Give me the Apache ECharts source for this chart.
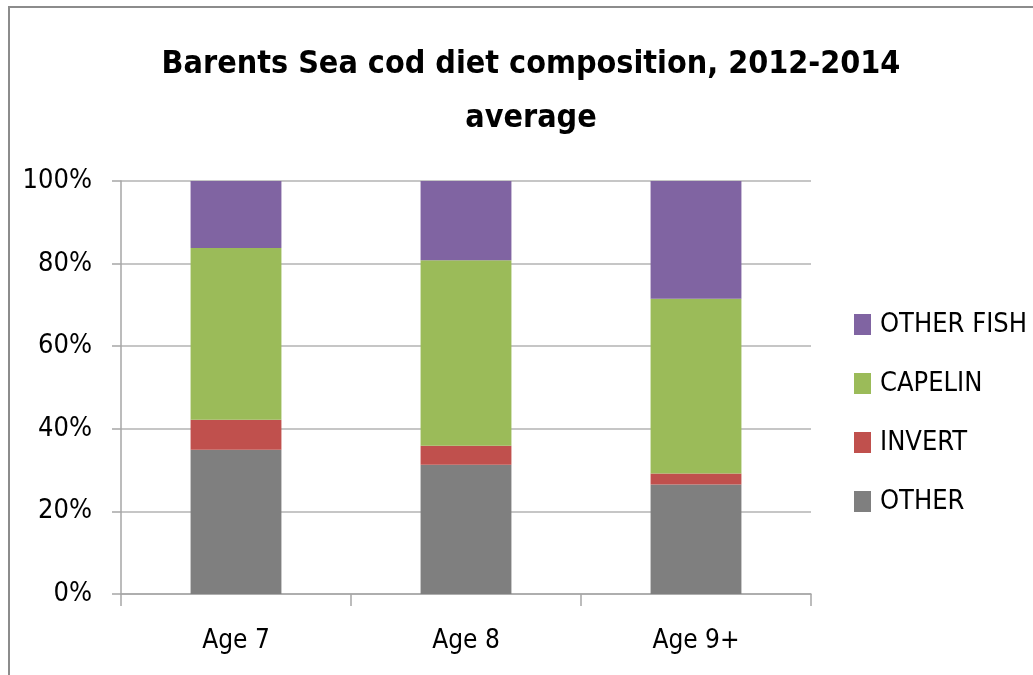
<!DOCTYPE html>
<html>
<head>
<meta charset="utf-8">
<script src="https://cdn.jsdelivr.net/npm/echarts@6/dist/echarts.min.js"></script>
<style>
html,body{margin:0;padding:0;background:#fff;}
#chart{width:1033px;height:675px;}
</style>
</head>
<body>
<div id="chart"></div>
<script>
var categories = ['Age 7', 'Age 8', 'Age 9+'];
var otherVals = [34.9, 31.3, 26.5];
var invertVals = [7.3, 4.6, 2.7];
var capelinVals = [41.6, 44.9, 42.3];
var otherFishVals = [16.2, 19.2, 28.5];
var yTicks = [0, 20, 40, 60, 80, 100];
var titleText = 'Barents Sea cod diet composition, 2012-2014\naverage';
var legendOrder = ['OTHER FISH', 'CAPELIN', 'INVERT', 'OTHER'];

var FONT = "'DejaVu Sans Condensed', 'Liberation Sans', sans-serif";
var chart = echarts.init(document.getElementById('chart'), null, {renderer: 'canvas'});

function bar(name, data, color) {
  return {
    name: name, type: 'bar', stack: 'total', data: data,
    barWidth: '39.5%',
    itemStyle: {color: color},
    emphasis: {disabled: true}
  };
}

chart.setOption({
  backgroundColor: '#ffffff',
  animation: false,
  title: {
    text: titleText,
    left: 526, top: 33,
    textAlign: 'center',
    textStyle: {fontFamily: FONT, fontWeight: 'bold', fontSize: 32, lineHeight: 54, color: '#000'}
  },
  graphic: [{
    type: 'rect', silent: true,
    shape: {x: 9, y: 7, width: 1200, height: 900},
    style: {fill: 'none', stroke: '#8c8c8c', lineWidth: 2}
  }],
  legend: {
    orient: 'vertical',
    left: 849, top: 306,
    itemWidth: 17, itemHeight: 21, itemGap: 32,
    icon: 'rect',
    data: legendOrder,
    textStyle: {fontFamily: FONT, fontSize: 27, lineHeight: 21, color: '#000', padding: [0, 0, 0, 4]}
  },
  grid: {left: 121, right: 222, top: 181, bottom: 81, containLabel: false},
  xAxis: {
    type: 'category',
    data: categories,
    axisLine: {lineStyle: {color: '#a6a6a6', width: 1.5}},
    axisTick: {show: true, length: 12, alignWithLabel: false, lineStyle: {color: '#a6a6a6', width: 1.5}},
    axisLabel: {fontFamily: FONT, fontSize: 26, color: '#000', margin: 34}
  },
  yAxis: {
    type: 'value',
    min: yTicks[0], max: yTicks[yTicks.length - 1], interval: yTicks[1] - yTicks[0],
    axisLine: {show: true, lineStyle: {color: '#a6a6a6', width: 1.5}},
    axisTick: {show: true, length: 9, lineStyle: {color: '#a6a6a6', width: 1.5}},
    splitLine: {lineStyle: {color: '#b3b3b3', width: 1.5}},
    axisLabel: {fontFamily: FONT, fontSize: 27, color: '#000', margin: 29, formatter: '{value}%'}
  },
  series: [
    bar('OTHER', otherVals, '#7f7f7f'),
    bar('INVERT', invertVals, '#c0504d'),
    bar('CAPELIN', capelinVals, '#9bbb59'),
    bar('OTHER FISH', otherFishVals, '#8064a2')
  ]
});
</script>
</body>
</html>
